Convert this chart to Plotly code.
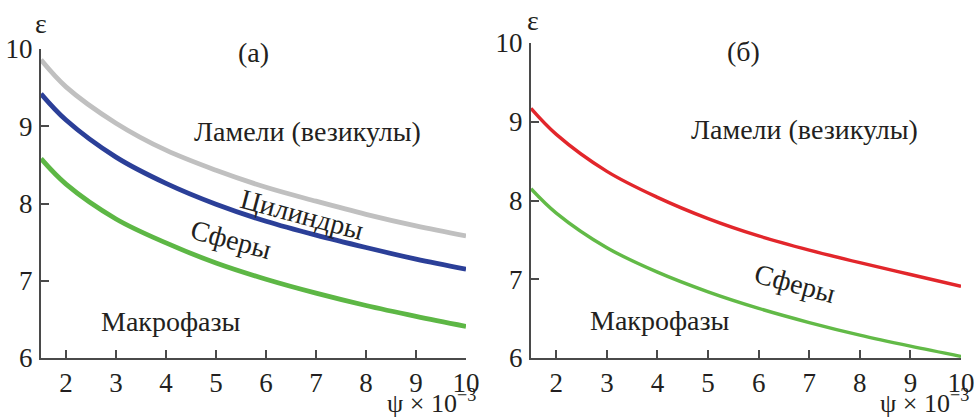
import plotly.graph_objects as go

# ---- data ----
psi = [1.5, 2, 3, 4, 5, 6, 7, 8, 9, 10]

# panel (a)
eps_a_lamellae = [9.86, 9.51, 9.04, 8.69, 8.43, 8.21, 8.03, 7.86, 7.71, 7.58]
eps_a_cylinders = [9.42, 9.08, 8.60, 8.26, 7.99, 7.77, 7.59, 7.43, 7.28, 7.15]
eps_a_spheres = [8.58, 8.25, 7.80, 7.49, 7.23, 7.02, 6.84, 6.68, 6.54, 6.41]

# panel (б)
eps_b_spheres = [9.17, 8.84, 8.37, 8.04, 7.77, 7.55, 7.37, 7.21, 7.06, 6.91]
eps_b_macro = [8.15, 7.84, 7.40, 7.09, 6.84, 6.63, 6.45, 6.29, 6.15, 6.02]

x_ticks = [2, 3, 4, 5, 6, 7, 8, 9, 10]
y_ticks = [6, 7, 8, 9, 10]

W, H = 974, 418
FONT = "Liberation Serif, Times New Roman, Tinos, DejaVu Serif, serif"
TXT = "#231f20"
AX = "#4a4a4a"

fig = go.Figure()

def line(x, y, color, width, xa, ya):
    fig.add_trace(go.Scatter(x=x, y=y, mode="lines", line=dict(color=color, width=width, shape="spline", smoothing=1.0),
                             xaxis=xa, yaxis=ya, showlegend=False, hoverinfo="skip"))

line(psi, eps_a_lamellae, "#c0c0c0", 4.8, "x", "y")
line(psi, eps_a_cylinders, "#2b3f98", 4.8, "x", "y")
line(psi, eps_a_spheres, "#5db745", 4.8, "x", "y")
line(psi, eps_b_spheres, "#e2262b", 3.4, "x2", "y2")
line(psi, eps_b_macro, "#62ba47", 3.4, "x2", "y2")

axis_common = dict(
    showgrid=False, zeroline=False, showline=True, linecolor=AX, linewidth=2,
    ticks="inside", ticklen=8, tickwidth=1.5, tickcolor=AX, automargin=False,
    ticklabeloverflow="allow",
    tickfont=dict(family=FONT, size=27, color=TXT), mirror=False,
)

fig.update_layout(
    template="none",
    width=W, height=H, margin=dict(l=0, r=0, t=0, b=0, autoexpand=False),
    paper_bgcolor="white", plot_bgcolor="white",
    font=dict(family=FONT),
    xaxis=dict(domain=[41 / W, 466 / W], range=[1.5, 10], tickvals=x_ticks, anchor="y",
               ticklabelstandoff=0, **axis_common),
    yaxis=dict(domain=[1 - 358 / H, 1 - 49 / H], range=[6, 10], tickvals=y_ticks, anchor="x",
               ticklabelstandoff=1, **axis_common),
    xaxis2=dict(domain=[531 / W, 961 / W], range=[1.5, 10], tickvals=x_ticks, anchor="y2",
                ticklabelstandoff=0, **axis_common),
    yaxis2=dict(domain=[1 - 358 / H, 1 - 43 / H], range=[6, 10], tickvals=y_ticks, anchor="x2",
                ticklabelstandoff=1, **axis_common),
)

def ann(text, x, y, xref, yref, angle=0, size=28, xanchor="center", yanchor="middle"):
    fig.add_annotation(text=text, x=x, y=y, xref=xref, yref=yref, showarrow=False, textangle=angle,
                       xanchor=xanchor, yanchor=yanchor,
                       font=dict(family=FONT, size=size, color=TXT))

# panel (a) labels
ann("(а)", 5.74, 9.95, "x", "y")
ann("Ламели (везикулы)", 6.82, 8.93, "x", "y")
ann("Цилиндры", 6.72, 7.86, "x", "y", angle=15)
ann("Сферы", 5.30, 7.53, "x", "y", angle=15)
ann("Макрофазы", 4.10, 6.47, "x", "y")

# panel (б) labels
ann("(б)", 5.71, 9.89, "x2", "y2")
ann("Ламели (везикулы)", 6.90, 8.90, "x2", "y2")
ann("Сферы", 6.72, 6.95, "x2", "y2", angle=15)
ann("Макрофазы", 4.05, 6.48, "x2", "y2")

# axis titles
ann("ε", 41 / W, 1 - 23 / H, "paper", "paper", size=28)
ann("ε", 533 / W, 1 - 20 / H, "paper", "paper", size=28)
ann("ψ × 10<sup>−3</sup>", 478 / W, 1 - 401 / H, "paper", "paper", size=26, xanchor="right")
ann("ψ × 10<sup>−3</sup>", 971 / W, 1 - 401 / H, "paper", "paper", size=26, xanchor="right")

fig.write_html("out.html")
